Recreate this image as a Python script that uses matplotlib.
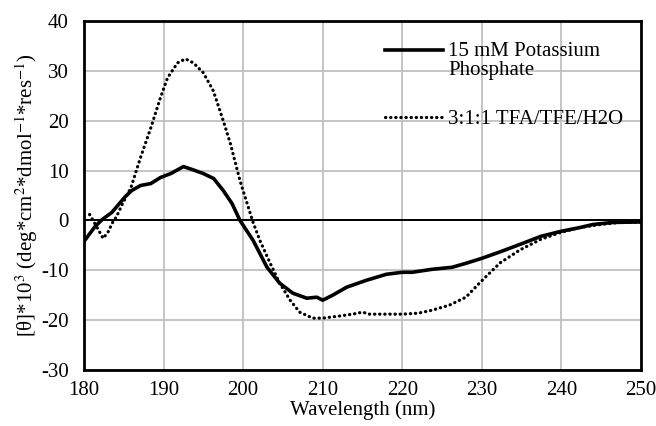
import matplotlib
matplotlib.use("Agg")
import numpy as np
import matplotlib.pyplot as plt
from matplotlib.legend_handler import HandlerLine2D

wl_kp = [180, 181.4, 182.3, 183.5, 185.2, 186, 187.1, 188.4, 189.6, 190.9, 192.5, 193.8, 195,
         196.3, 197.5, 198.6, 199.6, 201.25, 203, 204.6, 206.25, 208, 209.25, 210, 211.25, 213,
         215.5, 218, 220, 221.25, 223.75, 226.25, 228, 230, 232.3, 234.8, 237.4, 239.9, 242.4,
         244, 246.5, 250]
theta_kp = [-4.2, -1.2, 0.2, 1.6, 4.8, 6, 7, 7.4, 8.6, 9.4, 10.8, 10.1, 9.4, 8.4, 6, 3.4, 0,
            -4, -9.4, -12.6, -14.6, -15.6, -15.4, -16, -15, -13.4, -12, -10.8, -10.4, -10.4,
            -9.8, -9.4, -8.6, -7.6, -6.3, -4.8, -3.2, -2.2, -1.4, -0.8, -0.4, -0.3]

wl_tfa = [180.7, 181.5, 182.4, 183, 183.6, 184.1, 184.8, 185.9, 187.1, 188.4, 189.6, 190.5,
          191.75, 192.75, 193.75, 195, 196.25, 197.5, 198.4, 199.6, 200.5, 201.25, 202.1, 203.4,
          204.6, 205.9, 207.1, 208.75, 210, 212, 213.75, 215, 215.9, 218, 220, 222, 223.75,
          225.9, 228, 229.8, 232.3, 234.8, 237.4, 239.9, 242.4, 245, 247.4, 250]
theta_tfa = [1.2, -1, -3.6, -2.4, -0.4, 0.8, 3.2, 6.6, 12.6, 18.6, 24.6, 28.6, 31.6, 32.4, 31.6,
             29.6, 26, 20, 15.4, 8, 3.4, -0.4, -4, -8.6, -12.6, -16, -18.4, -19.6, -19.6, -19.2,
             -18.8, -18.4, -18.8, -18.8, -18.8, -18.6, -18, -17, -15.4, -12.4, -8.5, -5.9, -3.8,
             -2.4, -1.4, -0.8, -0.4, -0.4]

labels = ["15 mM Potassium\nPhosphate", "3:1:1 TFA/TFE/H2O"]
xticks = [180, 190, 200, 210, 220, 230, 240, 250]
yticks = [-30, -20, -10, 0, 10, 20, 30, 40]

plt.rcParams['font.family'] = ['Liberation Serif', 'DejaVu Serif']
plt.rcParams['mathtext.fontset'] = 'stix'
plt.rcParams['axes.unicode_minus'] = False


class RaisedLineHandler(HandlerLine2D):
    """Legend handle aligned with the first line of a two-line label."""
    def __init__(self, raise_pts, **kw):
        super().__init__(**kw)
        self.raise_pts = raise_pts

    def create_artists(self, legend, orig_handle, xdescent, ydescent, width, height,
                       fontsize, trans):
        arts = super().create_artists(legend, orig_handle, xdescent, ydescent, width,
                                      height, fontsize, trans)
        for a in arts:
            a.set_ydata(np.asarray(a.get_ydata(), dtype=float) + self.raise_pts)
        return arts


fig = plt.figure(figsize=(6.56, 4.26), dpi=100)
ax = fig.add_axes([84/656, 1-370/426, (641-84)/656, (370-21)/426])

ax.set_xlim(180, 250)
ax.set_ylim(-30, 40)
ax.set_xticks(xticks)
ax.set_yticks(yticks)
ax.grid(True, color='#c0c0c0', linewidth=1.3)
ax.set_axisbelow(True)
ax.axhline(0, color='black', linewidth=1.4, zorder=2)

l1, = ax.plot(wl_kp, theta_kp, color='black', linewidth=2.6, label=labels[0], zorder=3)
l2, = ax.plot(wl_tfa, theta_tfa, color='black', linewidth=2.3, linestyle=(0, (0.1, 1.5)),
              dash_capstyle='round', label=labels[1], zorder=3)

for s in ax.spines.values():
    s.set_linewidth(2)
ax.tick_params(axis='x', length=0, labelsize=15, pad=8)
ax.tick_params(axis='y', length=0, labelsize=15, pad=11)

ax.set_xlabel("Wavelength (nm)", fontsize=15, labelpad=0)
ax.set_ylabel(r"[θ]*10$^3$ (deg*cm$^2$*dmol$^{-1}$*res$^{-1}$)", fontsize=15, labelpad=0.5)

leg = ax.legend(handles=[l1, l2], loc='upper left', bbox_to_anchor=(0.540, 0.941),
                frameon=False, fontsize=15, borderpad=0, borderaxespad=0,
                handlelength=2.8, handletextpad=0.25, labelspacing=1.4,
                handler_map={l1: RaisedLineHandler(7.4)})
leg.get_texts()[0].set_linespacing(1.05)

fig.savefig("out.png", dpi=100)
